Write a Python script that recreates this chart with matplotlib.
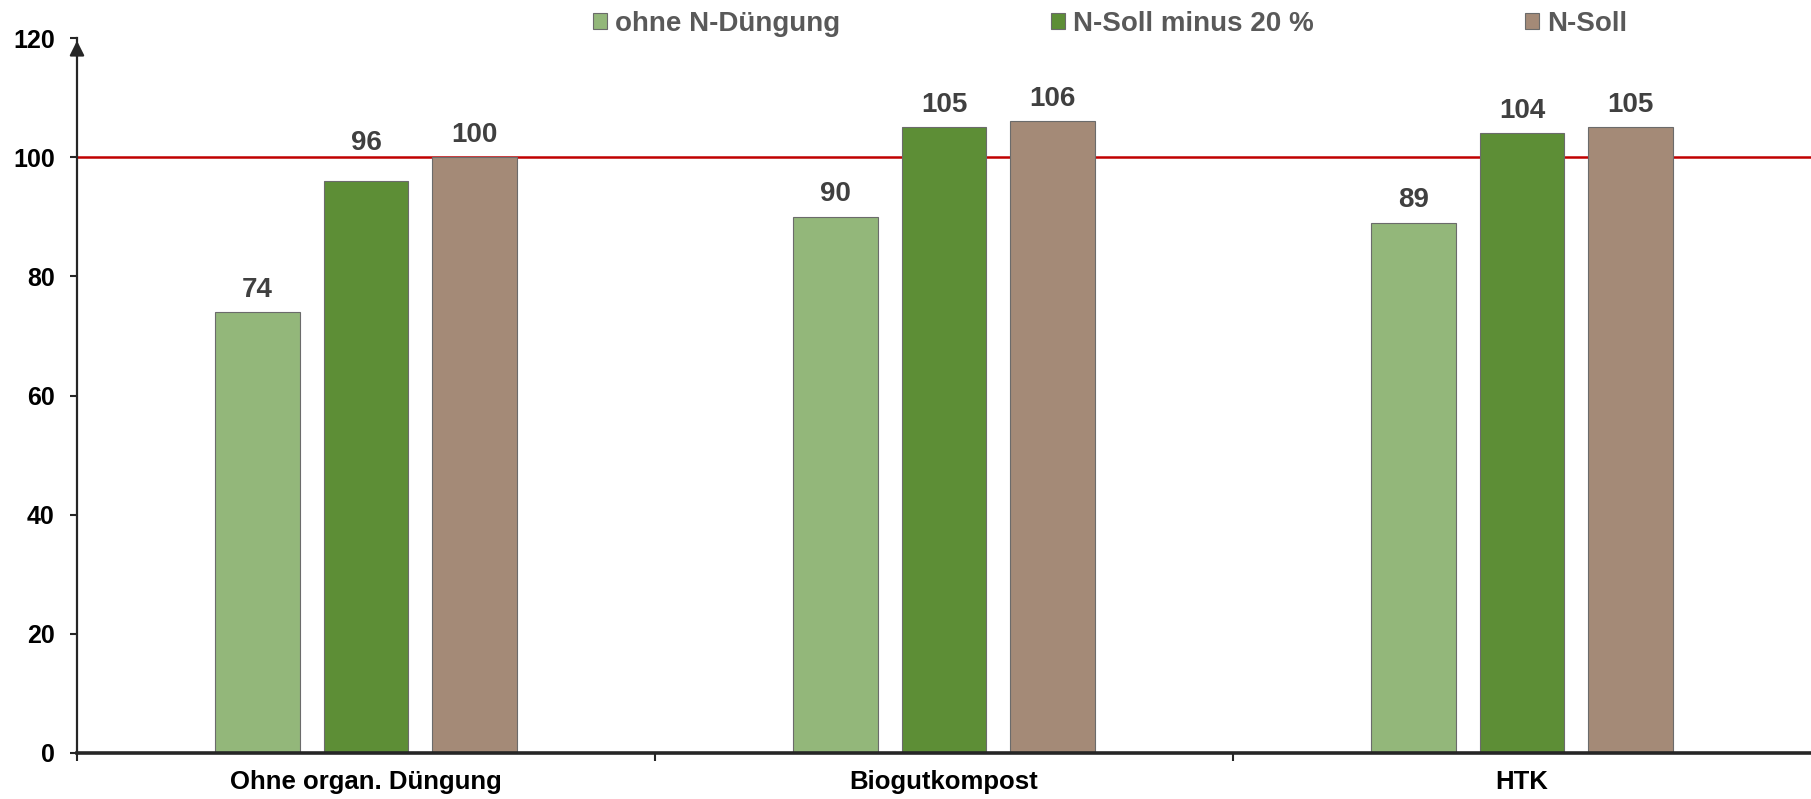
import matplotlib
matplotlib.use("Agg")
import matplotlib.pyplot as plt
import numpy as np

plt.rcParams['font.family'] = ['Liberation Sans', 'DejaVu Sans']

categories = ["Ohne organ. Düngung", "Biogutkompost", "HTK"]
series_names = ["ohne N-Düngung", "N-Soll minus 20 %", "N-Soll"]
ohne_n = [74, 90, 89]
n_soll_minus20 = [96, 105, 104]
n_soll = [100, 106, 105]
reference_value = 100
yticks = [0, 20, 40, 60, 80, 100, 120]

colors = ["#93B77A", "#5D8E36", "#A48A77"]
series = [ohne_n, n_soll_minus20, n_soll]

fig = plt.figure(figsize=(18.11, 7.99), dpi=100)
ax = fig.add_axes([77/1811, 1 - 753/799, 1 - 77/1811, (753 - 38)/799])

x = np.arange(len(categories))
width = 0.147
step = 0.188
for i, (vals, col, name) in enumerate(zip(series, colors, series_names)):
    pos = x + (i - 1) * step
    bars = ax.bar(pos, vals, width, color=col, edgecolor="#6b6b6b", linewidth=0.8, label=name, zorder=3)
    for b, v in zip(bars, vals):
        # labels just below the reference line are lifted above it
        off = 22 if reference_value - 8 < v < reference_value else 11
        ax.annotate(f"{v}", (b.get_x() + b.get_width() / 2, v), xytext=(0, off),
                    textcoords="offset points", ha="center", va="baseline",
                    fontsize=20, fontweight="bold", color="#404040")

ax.axhline(reference_value, color="#C00000", linewidth=1.8, zorder=2)

ax.set_xlim(-0.5, 2.5)
ax.set_ylim(0, 120)
ax.set_yticks(yticks)
ax.set_yticklabels([str(t) for t in yticks], fontsize=18, fontweight="bold")
ax.set_xticks(x)
ax.set_xticklabels(categories, fontsize=18.5, fontweight="bold")
ax.tick_params(axis="x", length=0, pad=12)
ax.set_xticks([-0.5, 0.5, 1.5], minor=True)
ax.tick_params(axis="x", which="minor", length=6, width=1.5, color="#262626", direction="out")
ax.tick_params(axis="y", length=5, width=1.5, color="#262626", direction="out", pad=11)

for s in ["top", "right"]:
    ax.spines[s].set_visible(False)
ax.spines["left"].set_color("#262626")
ax.spines["left"].set_linewidth(1.6)
ax.spines["bottom"].set_color("#262626")
ax.spines["bottom"].set_linewidth(2.6)
ax.spines["bottom"].set_zorder(4)

ax.annotate("", xy=(0, 1.0), xytext=(0, 0.97), xycoords="axes fraction",
            arrowprops=dict(arrowstyle="-|>", color="#262626", lw=1.6, mutation_scale=22),
            annotation_clip=False)

leg = ax.legend(loc="upper left", bbox_to_anchor=(579/1811, 1.004), bbox_transform=fig.transFigure,
                ncol=3, frameon=False, handlelength=0.5, handleheight=0.5, handletextpad=0.29,
                columnspacing=7.6, borderaxespad=0.1,
                prop={"size": 20, "weight": "bold"})
for t in leg.get_texts():
    t.set_color("#595959")

fig.savefig("out.png", dpi=100)
